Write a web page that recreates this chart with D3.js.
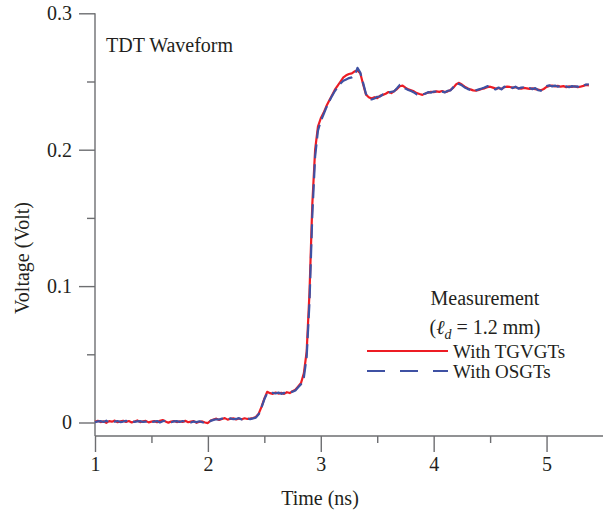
<!DOCTYPE html>
<html>
<head>
<meta charset="utf-8">
<script src="https://cdn.jsdelivr.net/npm/d3@7"></script>
<style>
  body { margin: 0; background: #fff; }
  text { font-family: "Liberation Serif", "Times New Roman", serif; fill: #231f20; }
</style>
</head>
<body>
<svg id="chart" width="613" height="517"></svg>
<script>
// sampled every 0.025 ns starting at 1 ns, values in mV, one row = 0.2 ns
const t0 = 1, dt = 0.025;
const tgvgt = [
  0.5, 1.2, 0.3, 0.9, -0.2, 1.0, 0.6, 1.4,
  0.2, 0.8, 1.3, 0.4, 1.1, 0.0, 0.7, 1.5,
  0.3, 0.9, 1.2, 0.1, 0.6, 1.0, 0.2, 1.3,
  1.8, 0.8, -0.1, 0.7, 1.1, 0.3, 0.9, 0.4,
  1.2, 0.2, 0.6, 1.0, -0.2, 0.5, 0.8, 0.0,
  -0.4, 1.5, 2.2, 2.8, 1.9, 2.6, 3.2, 2.1,
  2.7, 3.0, 2.3, 2.9, 2.4, 3.1, 2.6, 2.8,
  3.3, 4.0, 6.5, 11.5, 17.5, 22.5, 21.5, 21.0,
  22.0, 21.2, 21.8, 21.0, 22.2, 21.6, 23.0, 24.0,
  26.5, 29, 36, 52, 95, 160, 200, 217,
  223, 227, 232, 236, 240, 244, 247, 250,
  253, 254.5, 255.5, 256, 257.5, 258, 256, 248,
  240.5, 238.5, 237.5, 238.5, 237.8, 239.5, 240.2, 241,
  242.3, 241.5, 243, 244.5, 246.5, 247, 245.5, 244.2,
  243.5, 242.8, 241.5, 240.8, 240.2, 241.2, 241.8, 242.5,
  242.2, 242.8, 242.4, 243, 242.2, 242.8, 243.8, 245.5,
  248, 249, 247.8, 246.2, 245, 244.2, 243.5, 243.2,
  243.8, 244.5, 245, 245.8, 246.2, 245.5, 244.8, 245.2,
  244.5, 245.8, 246.2, 246, 245.5, 245.8, 245.2, 244.8,
  245.3, 245, 244.6, 245, 244.4, 244, 243.6, 244.5,
  246, 246.8, 247, 246.4, 246.8, 246.2, 246.6, 245.8,
  246.4, 246, 246.5, 245.8, 246.2, 246.8, 247.5, 247.2
];
const osgt = [
  0.2, 0.8, 1.0, 0.4, 1.3, 0.1, 0.9, 0.6,
  1.1, 0.3, 0.7, 1.2, 0.2, 0.9, 0.5, 0.8,
  1.0, 0.4, 0.6, 1.4, 0.3, 0.7, 1.1, 0.0,
  0.9, 1.3, 0.5, 0.2, 0.8, 1.0, 0.4, 1.1,
  0.6, 0.9, 0.1, 0.7, 0.3, 0.9, 0.2, -0.3,
  0.2, 1.2, 1.9, 2.4, 2.2, 2.9, 2.5, 2.3,
  3.0, 2.4, 2.6, 3.2, 2.2, 2.7, 3.0, 2.5,
  3.0, 3.6, 6.0, 11.0, 17.0, 21.5, 21.0, 21.8,
  21.3, 21.9, 21.0, 21.7, 21.4, 22.0, 22.6, 23.5,
  25.8, 28, 33, 48, 88, 152, 195, 214,
  221, 226, 231, 235.5, 239.5, 243, 246, 248.5,
  250.5, 251.5, 252.5, 253, 254.5, 260, 256.5, 249,
  241, 237.5, 236.8, 237.5, 238.8, 239, 240.5, 240.8,
  241.8, 242.5, 242.8, 245, 247.5, 246.5, 244.8, 243.8,
  243, 242, 240.5, 240.2, 240.8, 241, 242.2, 241.8,
  242.6, 242.5, 241.8, 242.6, 242, 243.2, 243.5, 246,
  248.8, 248.2, 247.2, 245.6, 244.6, 243.8, 242.6, 243.6,
  244.2, 244.8, 245.6, 246.6, 245.8, 244.8, 244.2, 245.6,
  244.2, 246.2, 245.8, 246.6, 245.2, 246.2, 244.8, 245.5,
  245.8, 244.6, 245.2, 244.4, 245.2, 243.6, 243.2, 245,
  246.6, 247.2, 246.4, 247, 246.2, 246.8, 246, 246.4,
  245.8, 246.6, 246.2, 246.4, 245.6, 247, 247.8, 248
];
const xTicks = [1, 2, 3, 4, 5];
const xMinor = [1.5, 2.5, 3.5, 4.5];
const yTicks = [0, 0.1, 0.2, 0.3];
const yMinor = [0.05, 0.15, 0.25];

const svg = d3.select('#chart');
const x = d3.scaleLinear().domain([1, 5.5]).range([95, 603]);
const y = d3.scaleLinear().domain([0, 0.3]).range([422.5, 13.3]);
const axisY = 436;
const axisColor = '#6d6e71';

// minor ticks first, then the labelled ones
svg.append('g')
    .attr('transform', 'translate(0,' + axisY + ')')
    .call(d3.axisBottom(x).tickValues(xMinor).tickSize(7).tickFormat(''));
svg.append('g')
    .attr('transform', 'translate(0,' + axisY + ')')
    .call(d3.axisBottom(x).tickValues(xTicks).tickSize(16).tickPadding(5).tickFormat(d3.format('d')));

svg.append('g')
    .attr('transform', 'translate(' + x(1) + ',0)')
    .call(d3.axisLeft(y).tickValues(yMinor).tickSize(8).tickFormat(''));
svg.append('g')
    .attr('transform', 'translate(' + x(1) + ',0)')
    .call(d3.axisLeft(y).tickValues(yTicks).tickSize(16).tickPadding(7)
        .tickFormat(function (d) { return d === 0 ? '0' : d3.format('.1f')(d); }));

svg.selectAll('.domain').remove();
svg.selectAll('.tick line').attr('stroke', axisColor).attr('stroke-width', 1.4);
svg.selectAll('.tick text').attr('font-size', 20).attr('fill', '#231f20')
    .style('font-family', '"Liberation Serif", serif');

// axis lines
svg.append('line')
    .attr('x1', x(1)).attr('x2', x(5.5))
    .attr('y1', axisY).attr('y2', axisY)
    .attr('stroke', axisColor).attr('stroke-width', 1.4);
svg.append('line')
    .attr('x1', x(1)).attr('x2', x(1))
    .attr('y1', y(0.3)).attr('y2', axisY)
    .attr('stroke', axisColor).attr('stroke-width', 1.4);

const line = d3.line()
    .x(function (d, i) { return x(t0 + i * dt); })
    .y(function (d) { return y(d / 1000); });

svg.append('path')
    .datum(tgvgt)
    .attr('d', line)
    .attr('fill', 'none')
    .attr('stroke', '#ed1c24')
    .attr('stroke-width', 2.2)
    .attr('stroke-linejoin', 'round');

svg.append('path')
    .datum(osgt)
    .attr('d', line)
    .attr('fill', 'none')
    .attr('stroke', '#3f51a3')
    .attr('stroke-width', 2.2)
    .attr('stroke-dasharray', '14,6')
    .attr('stroke-linejoin', 'round');

// labels
svg.append('text')
    .attr('x', 106).attr('y', 52)
    .attr('font-size', 20)
    .text('TDT Waveform');

svg.append('text')
    .attr('x', 320).attr('y', 505)
    .attr('text-anchor', 'middle')
    .attr('font-size', 20)
    .text('Time (ns)');

svg.append('text')
    .attr('transform', 'translate(29,258) rotate(-90)')
    .attr('text-anchor', 'middle')
    .attr('font-size', 20)
    .text('Voltage (Volt)');

// legend
const lg = svg.append('g');
lg.append('text')
    .attr('x', 485).attr('y', 305)
    .attr('text-anchor', 'middle')
    .attr('font-size', 20)
    .text('Measurement');
const sub = lg.append('text')
    .attr('x', 485).attr('y', 334)
    .attr('text-anchor', 'middle')
    .attr('font-size', 20);
sub.append('tspan').text('(');
sub.append('tspan').attr('font-style', 'italic').text('\u2113');
sub.append('tspan').attr('font-style', 'italic').attr('font-size', 14).attr('dy', 5).text('d');
sub.append('tspan').attr('dy', -5).text(' = 1.2 mm)');

lg.append('line')
    .attr('x1', 367).attr('x2', 448).attr('y1', 351).attr('y2', 351)
    .attr('stroke', '#ed1c24').attr('stroke-width', 2.2);
lg.append('text')
    .attr('x', 453).attr('y', 358)
    .attr('font-size', 19)
    .text('With TGVGTs');
lg.append('line')
    .attr('x1', 367).attr('x2', 448).attr('y1', 371).attr('y2', 371)
    .attr('stroke', '#3f51a3').attr('stroke-width', 2.2)
    .attr('stroke-dasharray', '18,15');
lg.append('text')
    .attr('x', 453).attr('y', 378)
    .attr('font-size', 19)
    .text('With OSGTs');
</script>
</body>
</html>
